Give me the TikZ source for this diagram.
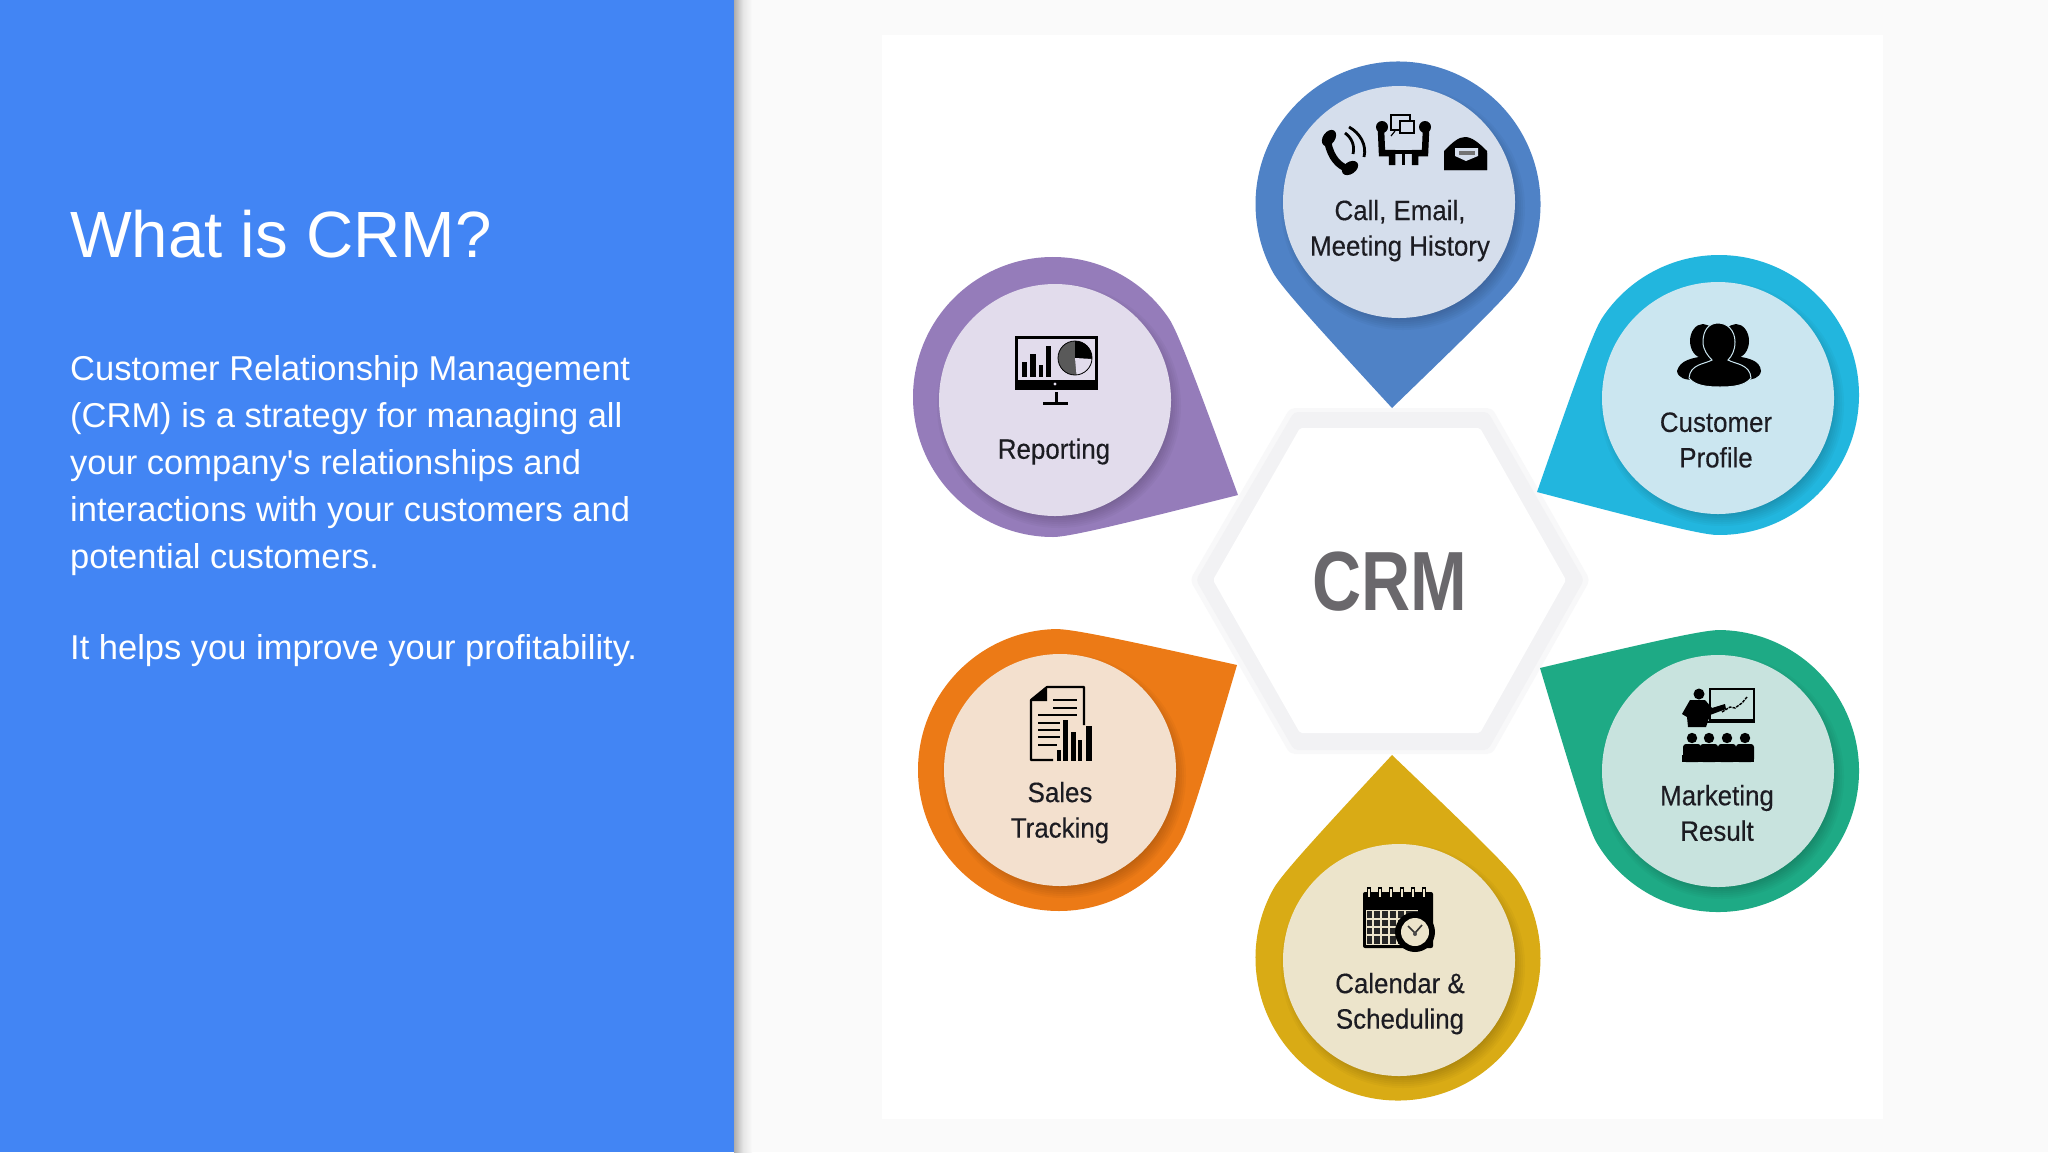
\documentclass[tikz,border=0pt]{standalone}
\usepackage{fontspec}
\usetikzlibrary{calc}
\setmainfont{Liberation Sans}
\newfontfamily\labelfont[FakeStretch=0.925,FakeBold=0.3]{Liberation Sans}
\newfontfamily\crmfont[FakeStretch=0.81]{Liberation Sans}
\definecolor{panelblue}{HTML}{4285F4}
\definecolor{pagegrey}{HTML}{FAFAFA}
\definecolor{hexring}{HTML}{F2F2F4}
\definecolor{hexsoft}{HTML}{F8F8F9}
\definecolor{crmgrey}{HTML}{6A686C}
\definecolor{inkdark}{HTML}{1C1C22}
\definecolor{pinblue}{HTML}{4F82C6}\definecolor{discblue}{HTML}{D5DEEC}
\definecolor{pinpurple}{HTML}{957CBA}\definecolor{discpurple}{HTML}{E2DCEC}
\definecolor{pincyan}{HTML}{22B6DE}\definecolor{disccyan}{HTML}{CBE6F0}
\definecolor{pinorange}{HTML}{EC7A16}\definecolor{discorange}{HTML}{F3E0CE}
\definecolor{pingold}{HTML}{D9AB15}\definecolor{discgold}{HTML}{ECE4CB}
\definecolor{pingreen}{HTML}{1EAA85}\definecolor{discgreen}{HTML}{C8E3DE}
\tikzset{
  disc/.style={circle,minimum size=232pt,inner sep=0pt,draw=none},
  pinlabel/.style={font=\labelfont\fontsize{28}{35.5}\selectfont,text=inkdark,align=center,inner sep=0pt},
  leftline/.style={text=white,inner sep=0pt,anchor=base west}
}
\newcommand\pinshape[6]{%
  \pgfmathsetmacro\pa{atan2(#5-#2,#4-#1)}%
  \pgfmathsetmacro\pd{veclen(#4-#1,#5-#2)}%
  \pgfmathsetmacro\pb{acos(#3/\pd)}%
  \pgfmathsetmacro\tha{\pa-\pb-14}%
  \pgfmathsetmacro\thb{\pa+\pb+14}%
  \pgfmathsetmacro\kk{#3*0.12}%
  \fill[#6] (#4,#5)
     .. controls ($(#4,#5)!.72!($(#1,#2)+(\pa-\pb:#3)$)$) and ($(#1,#2)+(\tha:#3)+(\tha+90:\kk)$) .. ($(#1,#2)+(\tha:#3)$)
     arc[start angle={\tha},delta angle={-(360-2*\pb-28)},radius=#3]
     .. controls ($(#1,#2)+(\thb:#3)+(\thb-90:\kk)$) and ($(#4,#5)!.72!($(#1,#2)+(\pa+\pb:#3)$)$) .. (#4,#5) -- cycle;
}
\newcommand\discshade[2]{%
  \foreach \rr in {110,112,...,122}{\fill[black,opacity=.028] (#1+4,#2+6) circle (\rr);}%
}
\begin{document}
\begin{tikzpicture}[x=1pt,y=-1pt]
\useasboundingbox (0,0) rectangle (2048,1152);
% page
\fill[pagegrey] (0,0) rectangle (2048,1152);
\fill[white] (882,35) rectangle (1883,1119);
\shade[left color=black!32,right color=pagegrey,shading angle=90,middle color=black!10] (734,0) rectangle (752,1152);
\fill[panelblue] (0,0) rectangle (734,1152);
% left text
\node[leftline,font=\fontsize{65.4}{70}\selectfont] (title) at (70,257) {What is CRM?};
\begin{scope}[every node/.style={leftline,font=\fontsize{34.5}{47}\selectfont}]
\node (l1) at (70,380) {Customer Relationship Management};
\node (l2) at (70,427) {(CRM) is a strategy for managing all};
\node (l3) at (70,474) {your company\textquotesingle s relationships and};
\node (l4) at (70,521) {interactions with your customers and};
\node (l5) at (70,568) {potential customers.};
\node (l6) at (70,659) {It helps you improve your profitability.};
\end{scope}
% hexagon
\fill[hexsoft,rounded corners=5pt] (1190,580) -- (1290,408) -- (1492,408) -- (1590,580) -- (1492,754) -- (1290,754) -- cycle;
\fill[hexring,rounded corners=4pt] (1196,580) -- (1294,412) -- (1488,412) -- (1584,580) -- (1488,750) -- (1294,750) -- cycle;
\fill[white,rounded corners=2pt] (1213,580) -- (1300,428) -- (1480,428) -- (1566,580) -- (1480,733) -- (1300,733) -- cycle;
\node[font=\crmfont\bfseries\fontsize{84}{90}\selectfont,text=crmgrey,inner sep=0pt,anchor=base] (crm) at (1390,610) {CRM};
% pins
\pinshape{1398}{204}{142.5}{1392}{408}{pinblue}
\pinshape{1053}{397}{140}{1238}{495}{pinpurple}
\pinshape{1719}{395}{140}{1537}{492}{pincyan}
\pinshape{1059}{770}{141}{1237}{665}{pinorange}
\pinshape{1398}{958}{142.5}{1392}{755}{pingold}
\pinshape{1718}{771}{141}{1540}{668}{pingreen}
\discshade{1399}{202}\discshade{1055}{400}\discshade{1718}{398}
\discshade{1060}{770}\discshade{1399}{960}\discshade{1718}{771}
\node[disc,fill=discblue] (dcall) at (1399,202) {};
\node[disc,fill=discpurple] (drep) at (1055,400) {};
\node[disc,fill=disccyan] (dcust) at (1718,398) {};
\node[disc,fill=discorange] (dsales) at (1060,770) {};
\node[disc,fill=discgold] (dcal) at (1399,960) {};
\node[disc,fill=discgreen] (dmark) at (1718,771) {};
% labels
\node[pinlabel] (tcall) at (1400,230.6) {Call, Email,\\Meeting History};
\node[pinlabel] (trep) at (1054,451.5) {Reporting};
\node[pinlabel] (tcust) at (1716,440) {Customer\\Profile};
\node[pinlabel] (tsales) at (1060,812.6) {Sales\\Tracking};
\node[pinlabel] (tcal) at (1400,1003.6) {Calendar \&\\Scheduling};
\node[pinlabel] (tmark) at (1717,813) {Marketing\\Result};
% --- phone icon
\draw[line width=7pt,line cap=round] (1328,143) .. controls (1331,158) and (1339,166) .. (1348,169);
\fill[black,rotate around={-35:(1329,138)}] (1329,138) ellipse (6 and 9);
\fill[black,rotate around={-55:(1350,168)}] (1350,168) ellipse (6 and 9);
\draw[line width=2.8pt] (1345,133) .. controls (1352,138) and (1355,146) .. (1353,154);
\draw[line width=2.8pt] (1349,127) .. controls (1360,133) and (1367,145) .. (1364,157);
% --- meeting icon
\fill[black] (1382,127) circle (6); \fill[black] (1425,127) circle (6);
\draw[line width=6.5pt] (1381,130) -- (1382,153) -- (1392,153) -- (1392,165);
\draw[line width=6.5pt] (1426,130) -- (1425,153) -- (1415,153) -- (1415,165);
\draw[line width=4pt] (1388,152) -- (1419,152);
\draw[line width=3pt] (1403,152) -- (1403,165);
\draw[line width=1.4pt,fill=discblue] (1391,115) rectangle (1410,130);
\draw[line width=1.4pt,fill=discblue] (1400,121) rectangle (1414,133);
\draw[line width=1.2pt] (1395,131) -- (1391,136);
% --- envelope icon
\fill[black] (1444,170) -- (1444,151) .. controls (1452,143) and (1458,137) .. (1465,137) .. controls (1472,137) and (1479,143) .. (1487,151) -- (1487,170) -- cycle;
\fill[discblue] (1455,148) -- (1478,148) -- (1478,156) -- (1466,161) -- (1455,156) -- cycle;
\fill[black!55] (1459,151) rectangle (1475,155);
\fill[black] (1444,170) -- (1444,153) -- (1465,164) -- (1487,153) -- (1487,170) -- cycle;
% --- monitor icon
\fill[black] (1015,336) rectangle (1098,390);
\fill[discpurple] (1018,339) rectangle (1095,380);
\fill[discpurple] (1055,384) circle (1.6);
\fill[black] (1054.5,392) rectangle (1058,403);
\fill[black] (1043,402) rectangle (1068,405);
\foreach \xa/\xb/\yt in {1022/1027/362,1030/1036/354,1039/1043/365,1046/1051/346}{\fill[black] (\xa,\yt) rectangle (\xb,377);}
\fill[black!65] (1075,358) circle (17);
\fill[black] (1075,358) -- (1075,341) arc[start angle=-90,end angle=5,radius=17] -- cycle;
\fill[discpurple] (1075,358) -- (1092,359) arc[start angle=3,end angle=85,radius=17] -- cycle;
\draw[line width=.8pt] (1075,358) circle (17);
% --- people icon
\fill[black] (1703,341) ellipse (13 and 17);
\fill[black] (1736,341) ellipse (13 and 17);
\fill[black] (1677,371) .. controls (1680,360) and (1692,358) .. (1705,356) -- (1735,356) .. controls (1748,358) and (1760,360) .. (1761,371) .. controls (1760,378) and (1752,380) .. (1745,380) -- (1695,380) .. controls (1685,380) and (1678,378) .. (1677,371) -- cycle;
\draw[disccyan,line width=1pt,fill=black] (1718,323) .. controls (1709,323) and (1703,330) .. (1703,342) .. controls (1703,350) and (1708,356) .. (1712,360) .. controls (1705,364) and (1690,364) .. (1689,378) .. controls (1695,386) and (1708,387) .. (1720,387) .. controls (1732,387) and (1745,386) .. (1751,378) .. controls (1750,364) and (1735,364) .. (1728,360) .. controls (1732,356) and (1735,350) .. (1735,342) .. controls (1735,330) and (1727,323) .. (1718,323) -- cycle;
% --- sales document icon
\draw[line width=2.2pt,line join=round] (1053,760) -- (1031,760) -- (1031,700) -- (1047,687) -- (1084,687) -- (1084,725);
\fill[black] (1030,701) -- (1047,686) -- (1047,701) -- cycle;
\foreach \xa/\xb/\yy in {1053/1077/700,1053/1077/708,1038/1077/715,1038/1060/723,1038/1060/730,1038/1060/737,1038/1057/745}{\draw[line width=2.8pt] (\xa,\yy) -- (\xb,\yy);}
\foreach \xa/\xb/\yt in {1057/1061/750,1063/1068/720,1071/1076/732,1078/1082/740,1086/1092/726}{\fill[black] (\xa,\yt) rectangle (\xb,761);}
% --- calendar icon
\fill[black,rounded corners=2pt] (1363,892) rectangle (1433,948);
\fill[discgold] (1366,910) rectangle (1418,945);
\fill[black!85] (1367,911) rectangle (1418,944);
\foreach \xx in {1373,1381,1389,1397,1405}{\draw[discgold,line width=1.2pt] (\xx,911) -- (\xx,945);}
\foreach \yy in {919,927,935}{\draw[discgold,line width=1.2pt] (1367,\yy) -- (1418,\yy);}
\foreach \xx in {1369,1380,1391,1402,1413,1424}{\draw[line width=1.6pt,fill=discgold] (\xx-1.5,888) rectangle (\xx+1.5,898);}
\fill[black] (1415,932) circle (20);
\fill[discgold] (1415,932) circle (14);
\draw[line width=1.6pt,black!80] (1408,926) -- (1415,933) -- (1422,925);
\fill[black!70] (1415,934) circle (2);
% --- presenter icon
\draw[line width=2pt,fill=discgreen] (1710,689) rectangle (1754,720);
\draw[line width=2pt] (1707,722) -- (1755,722);
\draw[line width=1.4pt,dash pattern=on 3pt off 1pt] (1722,712) -- (1730,707) -- (1735,708) -- (1742,703) -- (1747,697);
\fill[black] (1699,694) circle (5.5);
\fill[black] (1690,700) -- (1705,700) -- (1712,708) -- (1725,704) -- (1726,709) -- (1710,715) -- (1706,727) -- (1688,727) -- (1687,717) -- (1682,714) -- cycle;
\foreach \xx in {1692,1709,1727,1745}{\fill[black] (\xx,738) circle (5.2);
  \fill[black,rounded corners=3pt] (\xx-9,744) rectangle (\xx+9,762);}
\fill[black] (1682,755) rectangle (1754,762);
\end{tikzpicture}
\end{document}
